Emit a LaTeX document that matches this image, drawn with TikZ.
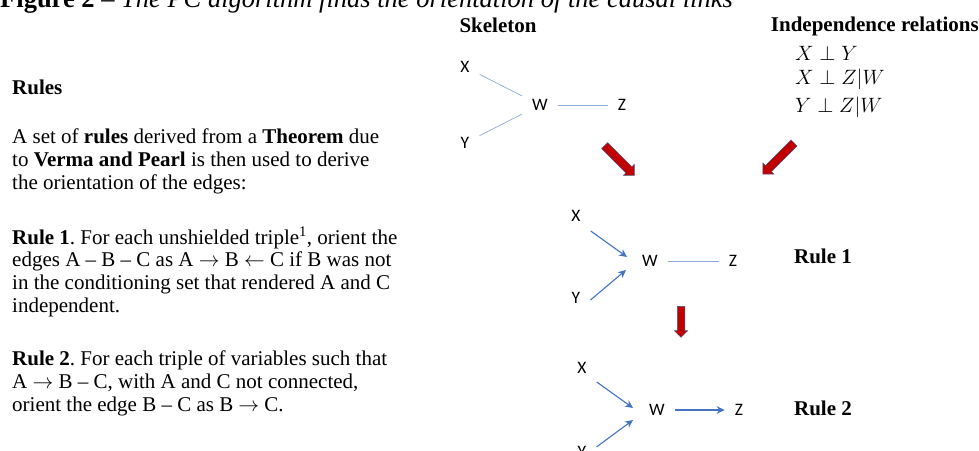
\documentclass[tikz,border=0pt]{standalone}
\usepackage{fontspec}
\setmainfont{Liberation Serif}
\newfontfamily\calib{Carlito}
\usepackage{tikz}
\usetikzlibrary{arrows.meta,shapes.arrows,positioning}
\definecolor{edgeblue}{HTML}{4472C4}
\definecolor{edgelight}{HTML}{8EA9DB}
\definecolor{arrowred}{HTML}{C00000}
\definecolor{arrowrim}{HTML}{4A5680}
\newcommand{\bodysize}{\fontsize{21}{22.6}\selectfont\frenchspacing}

\begin{document}
\begin{tikzpicture}[x=1pt,y=-1pt,
  font=\bodysize,
  para/.style={anchor=base west,align=left,inner sep=0pt},
  head/.style={font=\bodysize\bfseries,inner sep=0pt},
  var/.style={font=\calib\fontsize{17.5}{17.5}\selectfont,inner xsep=10pt,inner ysep=6pt},
  rel/.style={anchor=base west,inner sep=0pt,font=\fontsize{20}{20}\selectfont},
  skel/.style={draw=edgelight,line width=0.7pt},
  dir/.style={draw=edgeblue,line width=1.1pt,-{Stealth[length=8pt,width=7.5pt]}},
  bigarrow/.style={single arrow,fill=arrowred,draw=arrowrim,line width=0.5pt,
                   inner xsep=0pt,inner ysep=4pt,single arrow head extend=3.5pt}]
\clip (0,0) rectangle (979,450);

% title, cut at the top
\node[anchor=base west,inner sep=0pt,font=\fontsize{26.5}{26.5}\selectfont] (title) at (0,7)
  {\textbf{Figure 2} -- \textit{The PC algorithm finds the orientation of the causal links}};

% left column (base = last line)
\node[para,font=\bodysize\bfseries] (rules) at (12,94) {Rules};
\node[para] (intro) at (12,189) {A set of \textbf{rules} derived from a \textbf{Theorem} due\\
  to \textbf{Verma and Pearl} is then used to derive\\
  the orientation of the edges:};
\node[para] (ruleA) at (12,312) {\textbf{Rule 1}. For each unshielded triple\textsuperscript{1}, orient the\\
  edges A -- B -- C as A $\rightarrow$ B $\leftarrow$ C if B was not\\
  in the conditioning set that rendered A and C\\
  independent.};
\node[para] (ruleB) at (12,411) {\textbf{Rule 2}. For each triple of variables such that\\
  A $\rightarrow$ B -- C, with A and C not connected,\\
  orient the edge B -- C as B $\rightarrow$ C.};

% headings
\node[head] (skelhead) at (498,25) {Skeleton};
\node[head,anchor=base east] (indhead) at (979,31) {Independence relations};

% independence relations
\node[rel] (relA) at (795,60) {$X \perp Y$};
\node[rel] (relB) at (795,84) {$X \perp Z|W$};
\node[rel] (relC) at (795,112) {$Y \perp Z|W$};

% skeleton
\node[var] (sX) at (465,67) {X};
\node[var] (sY) at (465,143) {Y};
\node[var] (sW) at (540,105) {W};
\node[var] (sZ) at (622,105) {Z};
\draw[skel] (sX) -- (sW);
\draw[skel] (sY) -- (sW);
\draw[skel] (sW) -- (sZ);

% red arrows
\node[bigarrow,minimum height=42pt,rotate=-45] (toruleA) at (618,159) {};
\node[bigarrow,minimum height=44pt,rotate=-135] (fromrel) at (780,157) {};
\node[bigarrow,minimum height=31pt,rotate=-90,inner ysep=3.5pt,single arrow head extend=3pt] (toruleB) at (681,320) {};

% rule 1
\node[var] (aX) at (576,216) {X};
\node[var] (aY) at (576,298) {Y};
\node[var] (aW) at (650,261) {W};
\node[var] (aZ) at (733,261) {Z};
\draw[dir] ([yshift=-15pt]aX.east) -- ([xshift=-5pt,yshift=4pt]aW.west);
\draw[dir] ([yshift=-2pt]aY.east) -- ([xshift=-6pt,yshift=-9pt]aW.west);
\draw[skel] (aW) -- (aZ);
\node[head] (labA) at (823,256) {Rule 1};

% rule 2
\node[var] (bX) at (582,368) {X};
\node[var] (bY) at (582,452) {Y};
\node[var] (bW) at (657,410) {W};
\node[var] (bZ) at (739,410) {Z};
\draw[dir] ([yshift=-14pt]bX.east) -- ([xshift=-6pt,yshift=2pt]bW.west);
\draw[dir] ([yshift=5pt]bY.east) -- ([xshift=-6pt,yshift=-10pt]bW.west);
\draw[dir] (bW) -- (bZ);
\node[head] (labB) at (823,408) {Rule 2};
\end{tikzpicture}
\end{document}
